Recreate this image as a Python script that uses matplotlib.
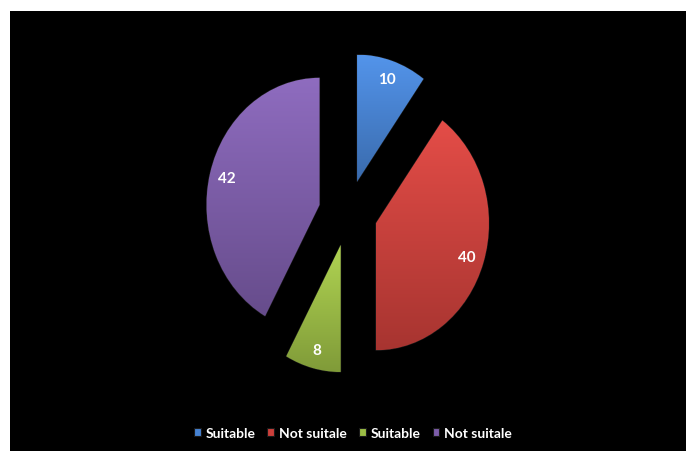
import matplotlib.pyplot as plt
import matplotlib.colors as mcolors
import numpy as np

labels = ['Suitable', 'Not suitale', 'Suitable', 'Not suitale']
values = [10, 40, 8, 42]
colors = ['#4682d2', '#cc403b', '#9cbd45', '#7d5daa']
explode = [0.26, 0.26, 0.26, 0.26]

plt.rcParams['font.family'] = ['Lato', 'DejaVu Sans']

fig = plt.figure(figsize=(6.86, 4.52), dpi=100, facecolor='white')
ax = fig.add_axes([10/686, 0, 676/686, 440/452])

tot = sum(values)
wedges, texts, autotexts = ax.pie(values, colors=colors, explode=explode,
                                  startangle=90, counterclock=False,
                                  autopct=lambda p: '{:.0f}'.format(p*tot/100),
                                  pctdistance=0.85,
                                  wedgeprops=dict(linewidth=0.8, edgecolor='#1a1a1a'),
                                  textprops=dict(color='white', fontsize=11, fontweight='bold'))

# leichter Verlauf oben hell -> unten dunkel
for w, c in zip(wedges, colors):
    rgb = np.array(mcolors.to_rgb(c))
    top = np.clip(rgb * 1.08 + 0.03, 0, 1)
    bot = rgb * 0.82
    t = np.linspace(0, 1, 200)[:, None, None]
    img = top * (1 - t) + bot * t
    v = w.get_path().vertices
    x0, y0 = v.min(axis=0)
    x1, y1 = v.max(axis=0)
    im = ax.imshow(img, extent=(x0, x1, y0, y1), origin='upper', aspect='auto', zorder=1.5)
    im.set_clip_path(w)
for t in autotexts:
    t.set_zorder(3)

ax.set_aspect('auto')
ax.set_xlim(-2.991, 2.991)
ax.set_ylim(-1.874, 1.591)
ax.set_axis_off()
# schwarzer Hintergrund (Achse ist aus)
fig.patches.append(plt.Rectangle((10/686, 0), 676/686, 440/452, transform=fig.transFigure,
                                 facecolor='black', zorder=-1))

leg = fig.legend(wedges, labels, loc='center', bbox_to_anchor=(353/686, 1 - 434/452),
                 ncol=4, frameon=False, handlelength=0.5, handleheight=0.5,
                 handletextpad=0.35, columnspacing=0.85,
                 prop=dict(size=10, weight='bold'))
for t in leg.get_texts():
    t.set_color('white')

fig.savefig('out.png', dpi=100, facecolor='white')
